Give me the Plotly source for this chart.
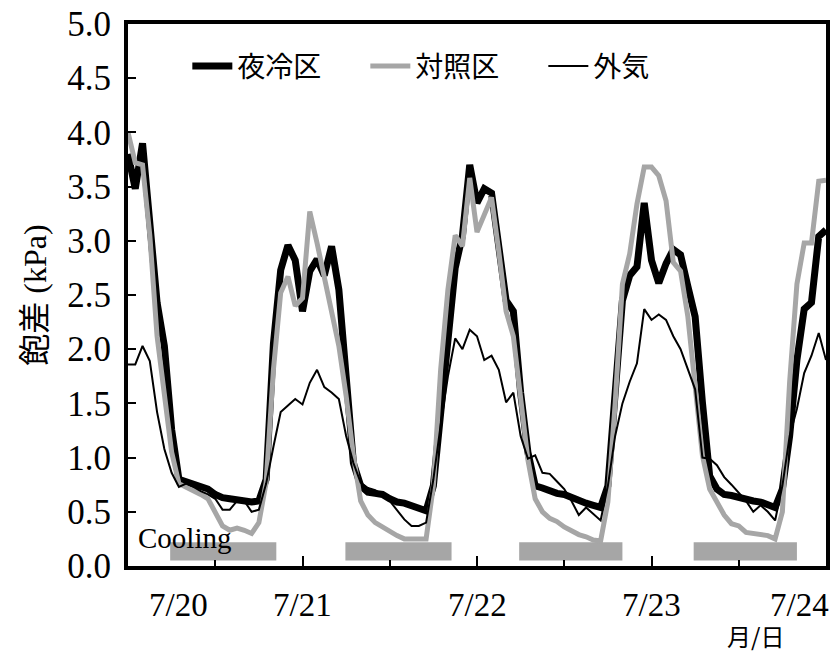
import plotly.graph_objects as go

# hours from the left edge of the chart (hourly data, 4 days)
hours = list(range(0, 97))

night_cooled = [3.80, 3.48, 3.90, 3.20, 2.43, 2.03, 1.26, 0.80, 0.78, 0.76,
                0.73, 0.71, 0.66, 0.63, 0.62, 0.61, 0.60, 0.59, 0.60, 0.80,
                2.05, 2.73, 2.96, 2.82, 2.35, 2.72, 2.83, 2.68, 2.95, 2.55,
                1.75, 0.95, 0.74, 0.68, 0.67, 0.66, 0.62, 0.59, 0.58, 0.56,
                0.53, 0.51, 0.74, 1.45, 2.10, 2.75, 3.05, 3.70, 3.35, 3.48,
                3.44, 2.95, 2.45, 2.35, 1.60, 1.05, 0.74, 0.72, 0.69, 0.67,
                0.66, 0.63, 0.60, 0.58, 0.56, 0.54, 0.74, 1.51, 2.45, 2.68,
                2.76, 3.35, 2.82, 2.61, 2.79, 2.92, 2.87, 2.58, 2.30, 1.51,
                0.83, 0.71, 0.66, 0.65, 0.63, 0.62, 0.60, 0.59, 0.56, 0.54,
                0.71, 1.20, 1.90, 2.37, 2.43, 3.04, 3.10]

control = [4.00, 3.72, 3.70, 3.05, 2.12, 1.57, 1.05, 0.76, 0.73, 0.70,
           0.66, 0.62, 0.50, 0.37, 0.33, 0.35, 0.33, 0.30, 0.40, 0.77,
           1.81, 2.52, 2.67, 2.40, 2.47, 3.27, 2.98, 2.67, 2.37, 2.03,
           1.57, 1.02, 0.60, 0.47, 0.40, 0.36, 0.31, 0.28, 0.25, 0.25,
           0.24, 0.25, 0.74, 1.81, 2.55, 3.05, 2.95, 3.58, 3.08, 3.25,
           3.40, 2.90, 2.35, 2.12, 1.50, 0.98, 0.62, 0.50, 0.44, 0.41,
           0.36, 0.32, 0.29, 0.27, 0.24, 0.23, 0.59, 1.50, 2.60, 2.88,
           3.34, 3.68, 3.68, 3.60, 3.37, 2.80, 2.72, 2.30, 1.60, 1.02,
           0.71, 0.59, 0.47, 0.39, 0.37, 0.31, 0.30, 0.28, 0.28, 0.25,
           0.50, 1.70, 2.60, 2.98, 2.98, 3.55, 3.56]

outside = [1.86, 1.86, 2.03, 1.89, 1.42, 1.08, 0.86, 0.73, 0.76, 0.73,
           0.69, 0.66, 0.62, 0.52, 0.52, 0.60, 0.60, 0.50, 0.52, 0.76,
           1.10, 1.42, 1.48, 1.54, 1.49, 1.69, 1.81, 1.65, 1.60, 1.54,
           1.20, 0.95, 0.77, 0.72, 0.70, 0.66, 0.60, 0.52, 0.43, 0.37,
           0.37, 0.40, 0.80, 1.30, 1.75, 2.10, 2.00, 2.18, 2.12, 1.90,
           1.94, 1.81, 1.51, 1.60, 1.20, 0.99, 1.02, 0.86, 0.85, 0.78,
           0.71, 0.60, 0.47, 0.54, 0.48, 0.42, 0.74, 1.20, 1.50, 1.70,
           1.87, 2.37, 2.27, 2.32, 2.27, 2.12, 2.00, 1.81, 1.63, 1.00,
           0.99, 0.93, 0.82, 0.75, 0.68, 0.60, 0.50, 0.56, 0.50, 0.42,
           0.74, 1.20, 1.45, 1.78, 1.94, 2.15, 1.90]

series_names = ["夜冷区", "対照区", "外気"]

cooling_start = [5.8, 29.9, 53.8, 77.8]
cooling_end = [20.4, 44.5, 68.0, 92.0]
cooling_low = 0.05
cooling_high = 0.22

date_labels = ["7/20", "7/21", "7/22", "7/23", "7/24"]
date_label_pos = [7.0, 24, 48, 72, 92.3]

y_ticks = [0.0, 0.5, 1.0, 1.5, 2.0, 2.5, 3.0, 3.5, 4.0, 4.5, 5.0]

SERIF = "Liberation Serif, Noto Sans CJK JP"
CJK = "Noto Sans CJK JP"

fig = go.Figure()
fig.add_trace(go.Scatter(x=hours, y=night_cooled, mode="lines", name=series_names[0],
                         line=dict(color="black", width=7)))
fig.add_trace(go.Scatter(x=hours, y=control, mode="lines", name=series_names[1],
                         line=dict(color="#a6a6a6", width=5)))
fig.add_trace(go.Scatter(x=hours, y=outside, mode="lines", name=series_names[2],
                         line=dict(color="black", width=2)))

for s, e in zip(cooling_start, cooling_end):
    fig.add_shape(type="rect", xref="x", yref="y", x0=s, x1=e,
                  y0=cooling_low, y1=cooling_high,
                  fillcolor="#a6a6a6", line=dict(width=0), layer="below")

fig.add_annotation(x=1.1, y=cooling_high, xref="x", yref="y", text="Cooling",
                   showarrow=False, xanchor="left", yanchor="middle", yshift=4,
                   font=dict(family=SERIF, size=29, color="black"))

for lab, pos in zip(date_labels, date_label_pos):
    fig.add_annotation(x=pos, y=0, xref="x", yref="paper", text=lab,
                       showarrow=False, xanchor="center", yanchor="middle", yshift=-39,
                       font=dict(family=SERIF, size=33, color="black"))

fig.add_annotation(x=1, y=0, xref="paper", yref="paper", text="月/日",
                   showarrow=False, xanchor="right", yanchor="middle",
                   xshift=-40, yshift=-69,
                   font=dict(family=CJK, size=24, color="black"))

fig.update_xaxes(range=[0, 96], showgrid=False, zeroline=False,
                 showline=True, linecolor="black", linewidth=4, mirror=True,
                 tickvals=[24, 48, 72], ticks="inside", ticklen=10, tickwidth=2,
                 tickcolor="black", showticklabels=False,
                 minor=dict(tickvals=[12, 36, 60, 84], ticks="inside", ticklen=6,
                            tickwidth=2, tickcolor="black"))

fig.update_yaxes(range=[0, 5], showgrid=False, zeroline=False,
                 showline=True, linecolor="black", linewidth=4, mirror=True,
                 tickvals=y_ticks, ticktext=[f"{v:.1f}" for v in y_ticks],
                 ticks="inside", ticklen=8, tickwidth=2, tickcolor="black",
                 ticklabelstandoff=6,
                 tickfont=dict(family=SERIF, size=35, color="black"),
                 title=dict(text="飽差 (kPa)", standoff=12,
                            font=dict(family=SERIF, size=32, color="black")))

fig.update_layout(
    width=835, height=652,
    margin=dict(l=128, r=5, t=20, b=86),
    paper_bgcolor="white", plot_bgcolor="white",
    showlegend=True,
    legend=dict(orientation="h", x=0.085, y=0.922, xanchor="left", yanchor="middle",
                bgcolor="rgba(0,0,0,0)", font=dict(family=CJK, size=28, color="black"),
                entrywidth=123, entrywidthmode="pixels", itemwidth=40),
)

fig.write_html("out.html")
